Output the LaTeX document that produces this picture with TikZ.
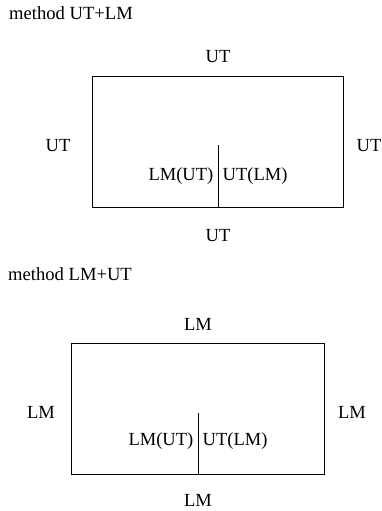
\documentclass[tikz,border=0pt]{standalone}
\usepackage{fontspec}
\setmainfont{Liberation Serif}
\begin{document}
\begin{tikzpicture}[x=1pt,y=-1pt,
  lbl/.style={font=\fontsize{18.5}{20}\selectfont, inner sep=0pt, anchor=base},
  ttl/.style={font=\fontsize{18.6}{20}\selectfont, inner sep=0pt, anchor=base west},
  field/.style={draw, line width=0.8pt, inner sep=0pt}]
\useasboundingbox (0,0) rectangle (381,511);

% --- method UT+LM ---
\node[ttl] (t1) at (9,20) {method UT+LM};
\node[field, minimum width=251pt, minimum height=131pt] (b1) at (217.5,141.5) {};
\coordinate (d1) at (218,145);
\draw[line width=0.8pt] (d1) -- (d1 |- b1.south);
\node[lbl] (n1) at (218,63) {UT};
\node[lbl] (w1) at (58,151) {UT};
\node[lbl] (e1) at (369,151) {UT};
\node[lbl] (s1) at (218,241) {UT};
\node[lbl, anchor=base east] (l1) at (213.5,180) {LM(UT)};
\node[lbl, anchor=base west] (r1) at (222.5,180) {UT(LM)};

% --- method LM+UT ---
\node[ttl] (t2) at (8,280) {method LM+UT};
\node[field, minimum width=253pt, minimum height=131pt] (b2) at (197.5,408.5) {};
\coordinate (d2) at (198,413);
\draw[line width=0.8pt] (d2) -- (d2 |- b2.south);
\node[lbl] (n2) at (198,330) {LM};
\node[lbl] (w2) at (41,418) {LM};
\node[lbl] (e2) at (352,418) {LM};
\node[lbl] (s2) at (198,506) {LM};
\node[lbl, anchor=base east] (l2) at (193.5,445) {LM(UT)};
\node[lbl, anchor=base west] (r2) at (202.5,445) {UT(LM)};
\end{tikzpicture}
\end{document}
